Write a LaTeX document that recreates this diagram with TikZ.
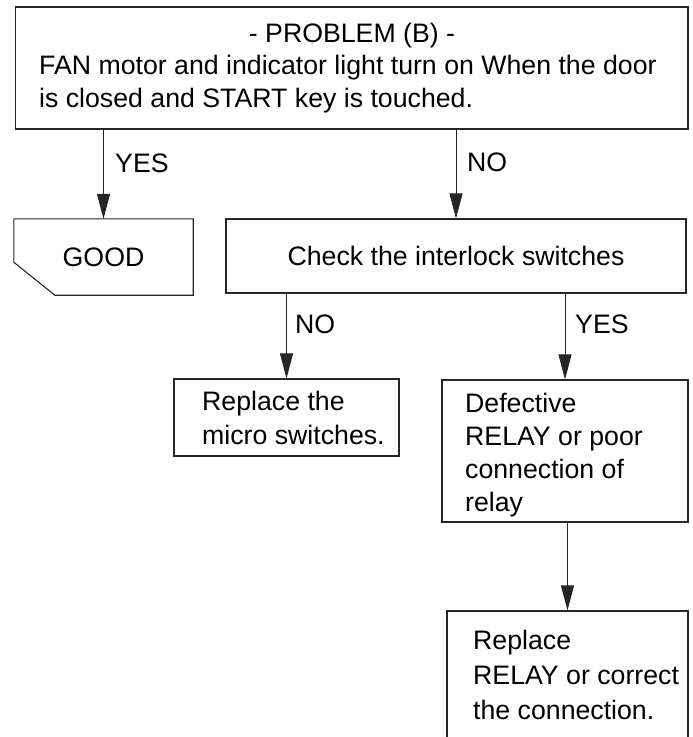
\documentclass[tikz,border=0pt]{standalone}
\usepackage{fontspec}
\setmainfont{Liberation Sans}
\usetikzlibrary{arrows.meta}
\begin{document}
\begin{tikzpicture}[x=1pt,y=-1pt,
  box/.style={draw=black!85, line width=1.1pt, inner sep=0pt},
  boxline/.style={draw=black!85, line width=1.1pt},
  txt/.style={inner sep=0pt, font=\fontsize{26.7}{35}\selectfont, align=left},
  lbl/.style={inner sep=0pt, font=\fontsize{26.7}{32}\selectfont},
  arr/.style={draw=black!85, line width=1pt, -{Triangle[length=25pt,width=13pt]}}]
\useasboundingbox[fill=white] (0,0) rectangle (693,737);
\clip (0,0) rectangle (693,737);
% top problem box
\node[box, minimum width=672.3pt, minimum height=122pt] (top) at (351.85,68) {};
\node[lbl, anchor=base] (ttl) at (352,42) {- PROBLEM (B) -};
\node[txt, font=\fontsize{26.7}{32.5}\selectfont, anchor=west] (body) at (39,84.2)
  {FAN motor and indicator light turn on When the door\\is closed and START key is touched.};
% GOOD
\node[lbl, minimum width=179pt, minimum height=76pt] (good) at (103.5,257) {GOOD};
\draw[boxline] (good.north west) -- (good.north east) -- (good.south east)
  -- ([xshift=41pt]good.south west) -- ([yshift=33pt]good.south west) -- cycle;
% Check
\node[box, lbl, minimum width=460pt, minimum height=74pt] (check) at (456,256) {Check the interlock switches};
% micro
\node[box, minimum width=225pt, minimum height=77pt] (micro) at (286.5,417.5) {};
\node[txt, anchor=west, font=\fontsize{26.7}{34}\selectfont] (microt) at (202,418.4) {Replace the\\micro switches.};
% defective
\node[box, minimum width=246pt, minimum height=142pt] (def) at (565,451) {};
\node[txt, anchor=west, font=\fontsize{26.7}{33.3}\selectfont] (deft) at (465,455.1) {Defective\\RELAY or poor\\connection of\\relay};
% replace relay
\node[box, minimum width=241pt, minimum height=160pt] (rep) at (567.5,691) {};
\node[txt, anchor=west] (rept) at (473,675.4) {Replace\\RELAY or correct\\the connection.};
% arrows
\draw[arr] (top.south -| good.north) -- (good.north);
\draw[arr] (top.south -| check.north) -- (check.north);
\draw[arr] (check.south -| micro.north) -- (micro.north);
\draw[arr] (check.south -| def.north) -- (def.north);
\draw[arr] (def.south -| rep.north) -- (rep.north);
% labels
\node[lbl, anchor=base west] (yes1) at (115,172) {YES};
\node[lbl, anchor=base west] (no1) at (467,171) {NO};
\node[lbl, anchor=base west] (no2) at (295,333) {NO};
\node[lbl, anchor=base west] (yes2) at (575,333) {YES};
\end{tikzpicture}
\end{document}
